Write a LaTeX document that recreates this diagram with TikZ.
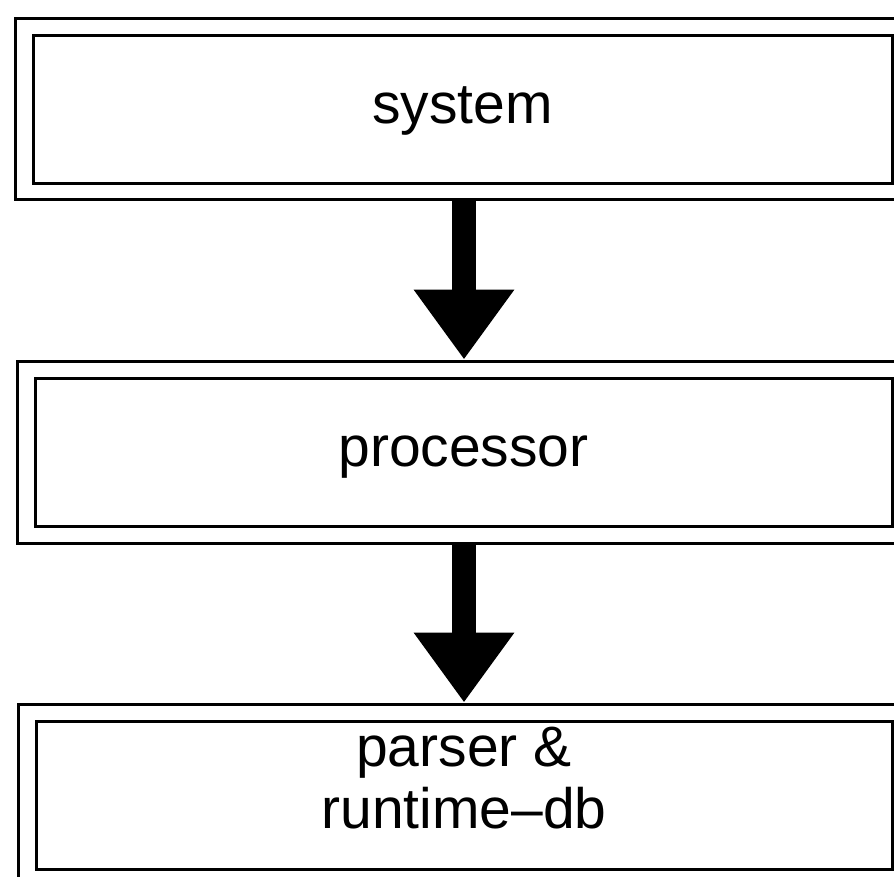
\documentclass[tikz,border=0pt]{standalone}
\usepackage{fontspec}
\setmainfont{Liberation Sans}
\usetikzlibrary{arrows.meta,calc}
\begin{document}
\begin{tikzpicture}[x=1pt,y=1pt,
  outerbox/.style={draw=black,line width=3pt,rectangle,inner sep=0pt},
  innerbox/.style={draw=black,line width=3pt,rectangle,inner sep=0pt,
    font=\fontsize{57}{62}\selectfont,text height=41pt,text depth=12pt},
  lbl/.style={inner sep=0pt,align=center,font=\fontsize{57}{62}\selectfont},
  flow/.style={line width=24pt,-{Triangle[width=96pt,length=70pt]}}]
\clip (0,0) rectangle (894,-876);
% box 1
\node[outerbox,minimum width=897pt,minimum height=181pt] (o1) at (464,-109) {};
\node[innerbox,minimum width=858.5pt,minimum height=148pt] (b1) at (462.75,-109) {system};
% box 2
\node[outerbox,minimum width=894pt,minimum height=182pt] (o2) at (464,-452) {};
\node[innerbox,minimum width=857pt,minimum height=148pt] (b2) at (463.5,-452) {processor};
% box 3
\node[outerbox,minimum width=892pt,minimum height=182pt] (o3) at (464,-795) {};
\node[innerbox,minimum width=856pt,minimum height=148pt] (b3) at (464,-795) {};
\node[lbl,anchor=north] (t3) at ($(b3.center)+(0,68)$) {parser \&\\runtime--db};
% arrows
\draw[flow] (o1.south) -- (o2.north);
\draw[flow] (o2.south) -- (o3.north);
\end{tikzpicture}
\end{document}
